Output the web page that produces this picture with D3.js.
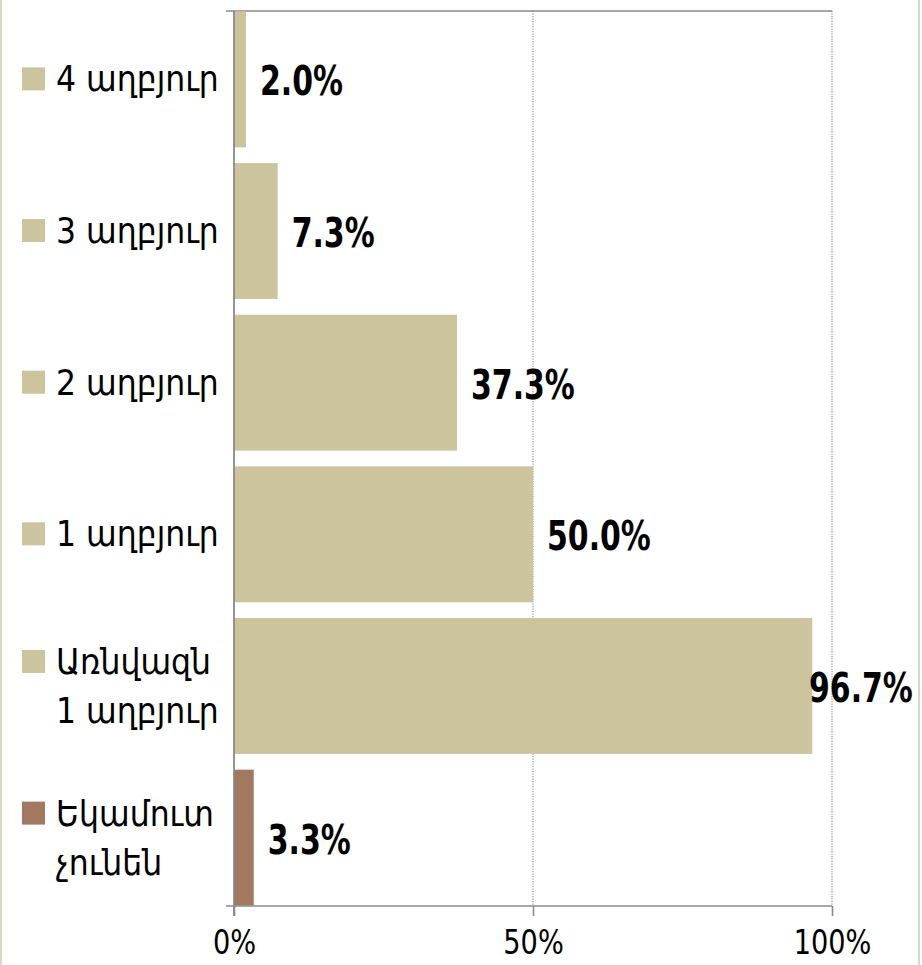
<!DOCTYPE html>
<html>
<head>
<meta charset="utf-8">
<script src="https://cdn.jsdelivr.net/npm/d3@7"></script>
<style>
  html, body { margin: 0; padding: 0; background: #ffffff; }
  svg { display: block; }
</style>
</head>
<body>
<svg id="chart" width="922" height="965"></svg>
<script>
// ---- data ----
const categories = ["4 աղբյուր", "3 աղբյուր", "2 աղբյուր", "1 աղբյուր", "Առնվազն\n1 աղբյուր", "Եկամուտ\nչունեն"];
const values = [0.020, 0.073, 0.373, 0.500, 0.967, 0.033];
const valueLabels = ["2.0%", "7.3%", "37.3%", "50.0%", "96.7%", "3.3%"];
const tickValues = [0, 0.5, 1];

// ---- styles ----
const BEIGE = "#ccc49d";
const BROWN = "#a27861";
const AXIS = "#8a8a8a";
const colorScale = d3.scaleOrdinal().domain(categories).range([BEIGE, BEIGE, BEIGE, BEIGE, BEIGE, BROWN]);

const svg = d3.select("#chart");
const W = 922, H = 965;

// outer frame
svg.append("rect").attr("x", 1).attr("y", -5).attr("width", 918).attr("height", H + 10)
  .attr("fill", "#ffffff").attr("stroke", "#dcd7c2").attr("stroke-width", 2);

const x = d3.scaleLinear().domain([0, 1]).range([234, 832]);
const y = d3.scaleBand().domain(categories).range([11, 906]).paddingInner(0.104).paddingOuter(0.003);

// gridlines
svg.append("g").selectAll("line").data(tickValues.filter(d => d > 0)).join("line")
  .attr("x1", d => x(d)).attr("x2", d => x(d))
  .attr("y1", 11).attr("y2", 906)
  .attr("stroke", "#9a9a9a").attr("stroke-width", 1.2).attr("stroke-dasharray", "1.2,1.3");

// top line
svg.append("line").attr("x1", x(0) - 8).attr("x2", x(1)).attr("y1", 11).attr("y2", 11)
  .attr("stroke", AXIS).attr("stroke-width", 1.6);

// bars
svg.append("g").selectAll("rect").data(categories).join("rect")
  .attr("x", x(0))
  .attr("y", d => y(d))
  .attr("width", (d, i) => x(values[i]) - x(0))
  .attr("height", y.bandwidth())
  .attr("fill", d => colorScale(d));

// bottom axis
const xAxis = d3.axisBottom(x).tickValues(tickValues).tickFormat(d3.format(".0%"))
  .tickSizeInner(10).tickSizeOuter(0).tickPadding(0);
const gx = svg.append("g").attr("transform", "translate(0,906)").call(xAxis);
gx.select(".domain").remove();
gx.selectAll(".tick line").attr("stroke", AXIS).attr("stroke-width", 1.6);
gx.selectAll(".tick text").remove();
gx.selectAll(".tick").append("text")
  .attr("transform", "translate(0,48) scale(0.8,1)")
  .attr("text-anchor", "middle")
  .attr("fill", "#000")
  .style("font-family", "'DejaVu Sans', sans-serif")
  .style("font-size", "34px")
  .text(d => d3.format(".0%")(d));
svg.append("line").attr("x1", x(0) - 8).attr("x2", x(1)).attr("y1", 906).attr("y2", 906)
  .attr("stroke", AXIS).attr("stroke-width", 1.6);

// y axis line
svg.append("line").attr("x1", x(0)).attr("x2", x(0)).attr("y1", 11).attr("y2", 916)
  .attr("stroke", AXIS).attr("stroke-width", 1.8);

// value labels
svg.append("g").selectAll("text").data(categories).join("text")
  .attr("transform", (d, i) => {
    const w = valueLabels[i].length * 21;
    let lx = x(values[i]) + 14;
    if (lx + w > 912) lx = 912 - w + 2;
    const ly = y(d) + y.bandwidth() / 2 + 16;
    return `translate(${lx},${ly}) scale(0.73,1)`;
  })
  .attr("fill", "#000")
  .style("font-family", "'DejaVu Sans', sans-serif")
  .style("font-weight", "bold")
  .style("font-size", "41px")
  .text((d, i) => valueLabels[i]);

// category labels (legend-style)
const cat = svg.append("g").selectAll("g").data(categories).join("g")
  .attr("transform", d => `translate(0,${y(d) + y.bandwidth() / 2})`);
cat.each(function(d) {
  const g = d3.select(this);
  const lines = d.split("\n");
  const n = lines.length;
  const firstCenter = -(n - 1) * 24 - 1;
  g.append("rect").attr("x", 22).attr("y", firstCenter - 11).attr("width", 23).attr("height", 23)
    .attr("fill", colorScale(d));
  lines.forEach((ln, k) => {
    g.append("text")
      .attr("transform", `translate(56,${firstCenter + 13 + k * 49}) scale(0.9,1)`)
      .attr("fill", "#000")
      .style("font-family", "'DejaVu Sans', sans-serif")
      .style("font-size", "35px")
      .text(ln);
  });
});
</script>
</body>
</html>
